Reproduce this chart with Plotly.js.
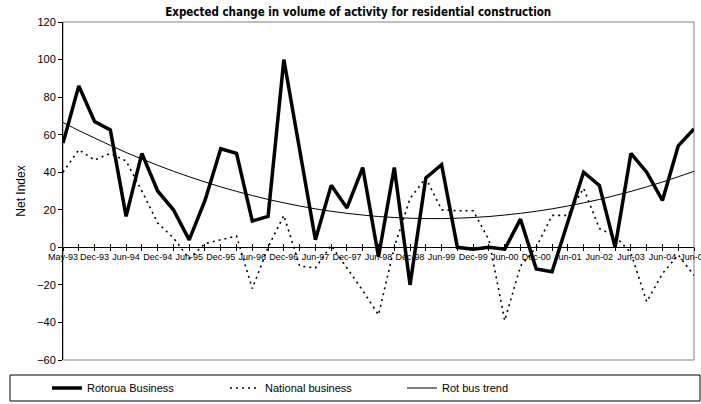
<!DOCTYPE html>
<html>
<head>
<meta charset="utf-8">
<script src="https://cdn.plot.ly/plotly-3.0.1.min.js"></script>
<style>
html,body{margin:0;padding:0;background:#fff;}
#chart{width:701px;height:404px;}
</style>
</head>
<body>
<div id="chart"></div>
<script>
const categories = ["May-93","Aug-93","Dec-93","Mar-94","Jun-94","Sep-94","Dec-94","Mar-95","Jun-95","Sep-95",
  "Dec-95","Mar-96","Jun-96","Sep-96","Dec-96","Mar-97","Jun-97","Sep-97","Dec-97","Mar-98",
  "Jun-98","Sep-98","Dec-98","Mar-99","Jun-99","Sep-99","Dec-99","Mar-00","Jun-00","Sep-00",
  "Dec-00","Mar-01","Jun-01","Dec-01","Jun-02","Dec-02","Jun-03","Dec-03","Jun-04","Dec-04","Jun-05"];

const rotoruaBusiness = [55.5,86,67,62.5,16.5,50,30,20,4,25,
  52.5,50,14,16.5,100,52,4,33,21,42.5,
  -5,42.5,-20,37,44,0,-1,0,-1,15,
  -11.5,-13,14,40,33,0,50,40,25,54,63];

const nationalBusiness = [40,52,46.5,50,46,30,13,5,-6,2,
  4,6,-22,0,17,-10,-11,1,-11,-23,
  -36,0,26,37,20,19.5,19.5,4,-39,-10,
  0,17,17,31.5,10,6,-3,-29,-14,-4,-15];

const rotBusTrend = [66.5,62.2,58.2,54.3,50.5,47.0,43.7,40.5,37.6,34.8,
  32.2,29.8,27.6,25.5,23.7,22.0,20.5,19.2,18.1,17.2,
  16.4,15.9,15.5,15.3,15.3,15.5,15.9,16.4,17.2,18.1,
  19.2,20.5,22.0,23.7,25.5,27.6,29.8,32.2,34.8,37.6,40.5];

const yTicks = [-60,-40,-20,0,20,40,60,80,100,120];

const xIdx = categories.map((c, i) => i);
const tickText = categories.map((c, i) => (i % 2 === 0 ? c : ""));

const condensed = '"DejaVu Sans Condensed", "Liberation Sans", sans-serif';
const regular = '"Liberation Sans", Arial, sans-serif';

const traces = [
  {x: xIdx, y: rotoruaBusiness, name: "Rotorua Business", type: "scatter", mode: "lines",
   legend: "legend", line: {color: "#000", width: 3.5}},
  {x: xIdx, y: nationalBusiness, name: "National business", type: "scatter", mode: "lines",
   legend: "legend2", line: {color: "#000", width: 1.6, dash: "2px,4px"}},
  {x: xIdx, y: rotBusTrend, name: "Rot bus trend", type: "scatter", mode: "lines",
   legend: "legend3", line: {color: "#000", width: 1, shape: "spline"}},
  {x: [0, 40], y: [null, null], xaxis: "x2", showlegend: false, hoverinfo: "skip", mode: "lines"}
];

const zeroPos = 60 / 180;
const legendY = 1 - 388 / 404;
function legendAt(px) {
  return {orientation: "h", x: px / 701, xref: "container", xanchor: "left",
    y: legendY, yref: "container", yanchor: "middle", borderwidth: 0,
    bgcolor: "rgba(0,0,0,0)", font: {family: regular, size: 11, color: "#000"}};
}

const plotTop = 22, plotH = 338;

const layout = {
  width: 701, height: 404,
  margin: {l: 63, r: 7, t: plotTop, b: 404 - plotTop - plotH},
  paper_bgcolor: "#fff", plot_bgcolor: "#fff",
  showlegend: true,
  title: {text: "Expected change in volume of activity for residential construction",
    font: {family: condensed, size: 11.5, color: "#000", weight: "bold"},
    x: 0.511, xref: "container", xanchor: "center", y: 0.97, yref: "container", yanchor: "middle"},
  xaxis: {range: [0, 40], anchor: "free", position: zeroPos, tickvals: xIdx, ticktext: tickText,
    ticks: "outside", ticklen: 3, tickcolor: "#000", tickwidth: 1, ticklabelstandoff: -2,
    ticklabeloverflow: "allow",
    showline: true, linecolor: "#000", linewidth: 1, showgrid: false, zeroline: false,
    tickfont: {family: regular, size: 9, color: "#000"}, tickangle: 0},
  xaxis2: {range: [0, 40], overlaying: "x", anchor: "free", position: zeroPos, tickvals: xIdx,
    ticks: "inside", ticklen: 3, tickcolor: "#000", tickwidth: 1, showticklabels: false,
    showline: false, showgrid: false, zeroline: false},
  yaxis: {range: [-60, 120], tickvals: yTicks, ticks: "outside", ticklen: 4, tickcolor: "#000",
    showline: true, linecolor: "#000", linewidth: 1, showgrid: false, zeroline: false,
    tickfont: {family: regular, size: 11, color: "#000"},
    title: {text: "Net Index", font: {family: regular, size: 12, color: "#000"}, standoff: 8}},
  legend: legendAt(47),
  legend2: legendAt(225),
  legend3: legendAt(402),
  shapes: [
    {type: "rect", xref: "paper", yref: "paper", x0: 0, x1: 1, y0: 0, y1: 1,
     line: {color: "#808080", width: 1}, layer: "below"},
    {type: "rect", xref: "paper", yref: "paper",
     x0: (10 - 63) / 631, x1: (700 - 63) / 631,
     y0: (plotTop + plotH - 401) / plotH, y1: (plotTop + plotH - 375) / plotH,
     line: {color: "#000", width: 1}}
  ]
};

Plotly.newPlot("chart", traces, layout, {staticPlot: true, displayModeBar: false});
</script>
</body>
</html>
